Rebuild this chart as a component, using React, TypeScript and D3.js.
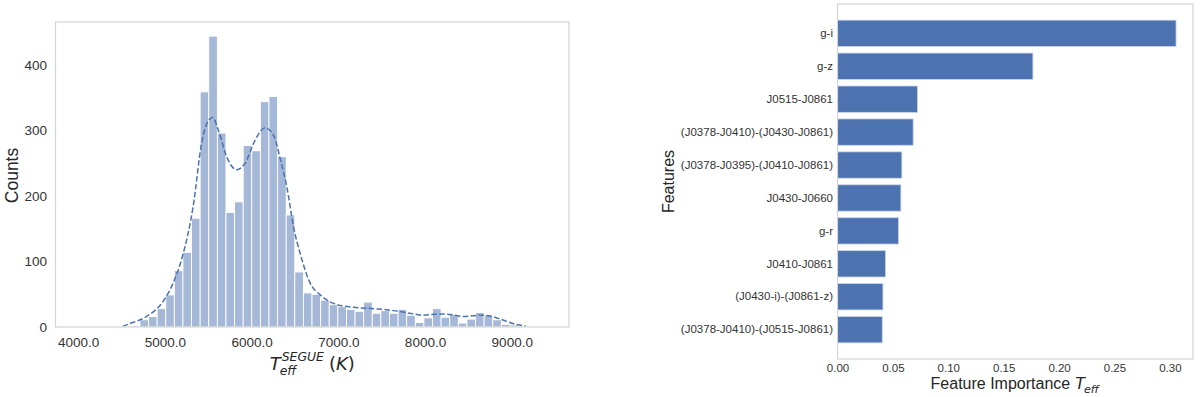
import React, { useEffect, useRef } from "react";
import * as d3 from "d3";

// --- left panel: histogram of T_eff (SEGUE), counts per bin
const binStart = 4515;
const binWidth = 99.2;
const tempCounts = [
  1, 2, 11, 16, 28, 49, 86, 114, 166, 359, 444, 296, 175, 191, 277, 269, 344,
  352, 260, 171, 84, 52, 50, 41, 34, 31, 27, 24, 38, 21, 25, 21, 27, 18, 7, 14,
  28, 15, 19, 6, 12, 22, 18, 11, 4, 3, 1,
];

// kde line (seaborn), sampled by eye
const kdeTemps = [
  4515, 4595, 4788, 4980, 5096, 5212, 5327, 5424, 5501, 5551, 5616, 5713,
  5829, 5925, 6040, 6156, 6252, 6340, 6407, 6484, 6561, 6676, 6792, 6946,
  7177, 7408, 7639, 7870, 7986, 8141, 8295, 8449, 8642, 8738, 8892, 9046, 9162,
];
const kdeCounts = [
  1, 5, 16, 39, 67, 112, 184, 280, 315, 320, 301, 260, 240, 250, 285, 304,
  293, 252, 214, 153, 112, 67, 49, 36, 30, 28, 25, 20, 18, 20, 19, 16, 18, 17,
  11, 4, 1.5,
];

const tempTicks = [4000, 5000, 6000, 7000, 8000, 9000];
const countTicks = [0, 100, 200, 300, 400];

// --- right panel: feature importance for T_eff
const features = [
  "g-i",
  "g-z",
  "J0515-J0861",
  "(J0378-J0410)-(J0430-J0861)",
  "(J0378-J0395)-(J0410-J0861)",
  "J0430-J0660",
  "g-r",
  "J0410-J0861",
  "(J0430-i)-(J0861-z)",
  "(J0378-J0410)-(J0515-J0861)",
];
const importances = [
  0.3056, 0.1764, 0.0722, 0.0683, 0.0581, 0.0572, 0.0551, 0.0434, 0.041, 0.0404,
];
const importanceTicks = [0, 0.05, 0.1, 0.15, 0.2, 0.25, 0.3];

function App() {
  const svgRef = useRef<SVGSVGElement>(null);

  useEffect(() => {
    document.body.style.margin = "0";
    const svg = d3.select(svgRef.current);
    svg.selectAll("*").remove();

    const sans = "'Liberation Sans', Arial, sans-serif";
    const math = "'DejaVu Sans', sans-serif";
    const blue = "#4c72b0";
    const tickCol = "#333333";
    const spine = "#d4d4d4";

    // ================= histogram =================
    const L = { x0: 55.5, x1: 569, y0: 22, y1: 327 };
    const scT = d3.scaleLinear().domain([3740, 9660]).range([L.x0, L.x1]);
    const scC = d3.scaleLinear().domain([0, 465.6]).range([L.y1, L.y0]);

    const bins = tempCounts.map((c, i) => ({
      lo: binStart + i * binWidth,
      hi: binStart + (i + 1) * binWidth,
      c,
    }));

    const gL = svg.append("g");
    gL.selectAll("rect.bar").data(bins).enter().append("rect")
      .attr("class", "bar")
      .attr("x", d => scT(d.lo))
      .attr("width", d => scT(d.hi) - scT(d.lo))
      .attr("y", d => scC(d.c))
      .attr("height", d => scC(0) - scC(d.c))
      .attr("fill", blue).attr("fill-opacity", 0.5)
      .attr("stroke", "#ffffff").attr("stroke-width", 0.9);

    const kdeLine = d3.line<number>()
      .x((d, i) => scT(kdeTemps[i]))
      .y(d => scC(d))
      .curve(d3.curveMonotoneX);
    gL.append("path")
      .attr("d", kdeLine(kdeCounts))
      .attr("fill", "none").attr("stroke", blue)
      .attr("stroke-width", 1.5).attr("stroke-dasharray", "5.5,2.4");

    gL.append("rect")
      .attr("x", L.x0).attr("y", L.y0)
      .attr("width", L.x1 - L.x0).attr("height", L.y1 - L.y0)
      .attr("fill", "none").attr("stroke", spine).attr("stroke-width", 1.2);

    const axB = gL.append("g")
      .attr("transform", `translate(0,${L.y1})`)
      .call(d3.axisBottom(scT).tickValues(tempTicks)
        .tickFormat(d3.format(".1f")).tickSize(0).tickPadding(10));
    const axL = gL.append("g")
      .attr("transform", `translate(${L.x0},0)`)
      .call(d3.axisLeft(scC).tickValues(countTicks)
        .tickFormat(d3.format("d")).tickSize(0).tickPadding(8.5));
    [axB, axL].forEach(ax => {
      ax.select(".domain").remove();
      ax.selectAll("text")
        .attr("font-family", sans).attr("font-size", 13.5).attr("fill", tickCol);
    });

    gL.append("text")
      .attr("transform", `translate(18,${(L.y0 + L.y1) / 2 + 1}) rotate(-90)`)
      .attr("text-anchor", "middle")
      .attr("font-family", sans).attr("font-size", 17.5).attr("fill", "#262626")
      .text("Counts");

    // x label: T_eff^SEGUE (K)
    const xl = gL.append("g");
    const base = 370;
    const tT = xl.append("text").attr("x", 0).attr("y", base)
      .attr("font-family", math).attr("font-style", "italic")
      .attr("font-size", 18).attr("fill", "#262626").text("T");
    const wT = (tT.node() as SVGTextElement).getComputedTextLength();
    const tSup = xl.append("text").attr("x", wT + 1).attr("y", base - 9.5)
      .attr("font-family", math).attr("font-style", "italic")
      .attr("font-size", 12.4).attr("fill", "#262626").text("SEGUE");
    const tSub = xl.append("text").attr("x", wT - 1).attr("y", base + 5)
      .attr("font-family", math).attr("font-style", "italic")
      .attr("font-size", 12.4).attr("fill", "#262626").text("eff");
    const wScript = Math.max(
      (tSup.node() as SVGTextElement).getComputedTextLength() + 1,
      (tSub.node() as SVGTextElement).getComputedTextLength() - 1
    );
    const tK = xl.append("text").attr("x", wT + wScript + 5).attr("y", base)
      .attr("font-family", math).attr("font-size", 18).attr("fill", "#262626");
    tK.append("tspan").text("(");
    tK.append("tspan").attr("font-style", "italic").text("K");
    tK.append("tspan").text(")");
    const wAll = wT + wScript + 5 + (tK.node() as SVGTextElement).getComputedTextLength();
    xl.attr("transform", `translate(${(L.x0 + L.x1) / 2 - wAll / 2},0)`);

    // ================= feature importance =================
    const R = { x0: 837.5, x1: 1193, y0: 4, y1: 359 };
    const scI = d3.scaleLinear().domain([0, 0.3209]).range([R.x0, R.x1]);
    const scF = d3.scaleBand<string>().domain(features)
      .range([R.y0, R.y1]).paddingInner(0.2).paddingOuter(0.49);

    const gR = svg.append("g");
    gR.selectAll("rect.fi").data(features).enter().append("rect")
      .attr("class", "fi")
      .attr("x", scI(0))
      .attr("y", d => scF(d) as number)
      .attr("width", (d, i) => scI(importances[i]) - scI(0))
      .attr("height", scF.bandwidth())
      .attr("fill", blue)
      .attr("stroke", "#c9d4e8").attr("stroke-width", 0.8);

    gR.append("rect")
      .attr("x", R.x0).attr("y", R.y0)
      .attr("width", R.x1 - R.x0).attr("height", R.y1 - R.y0)
      .attr("fill", "none").attr("stroke", spine).attr("stroke-width", 1.2);

    const axRB = gR.append("g")
      .attr("transform", `translate(0,${R.y1})`)
      .call(d3.axisBottom(scI).tickValues(importanceTicks)
        .tickFormat(d3.format(".2f")).tickSize(0).tickPadding(5));
    const axRL = gR.append("g")
      .attr("transform", `translate(${R.x0},0)`)
      .call(d3.axisLeft(scF).tickSize(0).tickPadding(4.5));
    [axRB, axRL].forEach(ax => {
      ax.select(".domain").remove();
      ax.selectAll("text")
        .attr("font-family", sans).attr("font-size", 11.5).attr("fill", tickCol);
    });

    gR.append("text")
      .attr("transform", `translate(674,${(R.y0 + R.y1) / 2}) rotate(-90)`)
      .attr("text-anchor", "middle")
      .attr("font-family", sans).attr("font-size", 16).attr("fill", "#262626")
      .text("Features");

    const xr = gR.append("g");
    const rb = 389;
    const tF = xr.append("text").attr("x", 0).attr("y", rb)
      .attr("font-family", sans).attr("font-size", 16).attr("fill", "#262626")
      .text("Feature Importance");
    const wF = (tF.node() as SVGTextElement).getComputedTextLength() + 5;
    const tT2 = xr.append("text").attr("x", wF).attr("y", rb)
      .attr("font-family", math).attr("font-style", "italic")
      .attr("font-size", 16).attr("fill", "#262626").text("T");
    const wT2 = (tT2.node() as SVGTextElement).getComputedTextLength();
    const tE2 = xr.append("text").attr("x", wF + wT2 - 1).attr("y", rb + 3.5)
      .attr("font-family", math).attr("font-style", "italic")
      .attr("font-size", 11.2).attr("fill", "#262626").text("eff");
    const wR = wF + wT2 + (tE2.node() as SVGTextElement).getComputedTextLength();
    xr.attr("transform", `translate(${(R.x0 + R.x1) / 2 - wR / 2},0)`);
  }, []);

  return (
    <svg ref={svgRef} width={1200} height={397}
      style={{ display: "block", background: "#ffffff" }} />
  );
}

export default App;
